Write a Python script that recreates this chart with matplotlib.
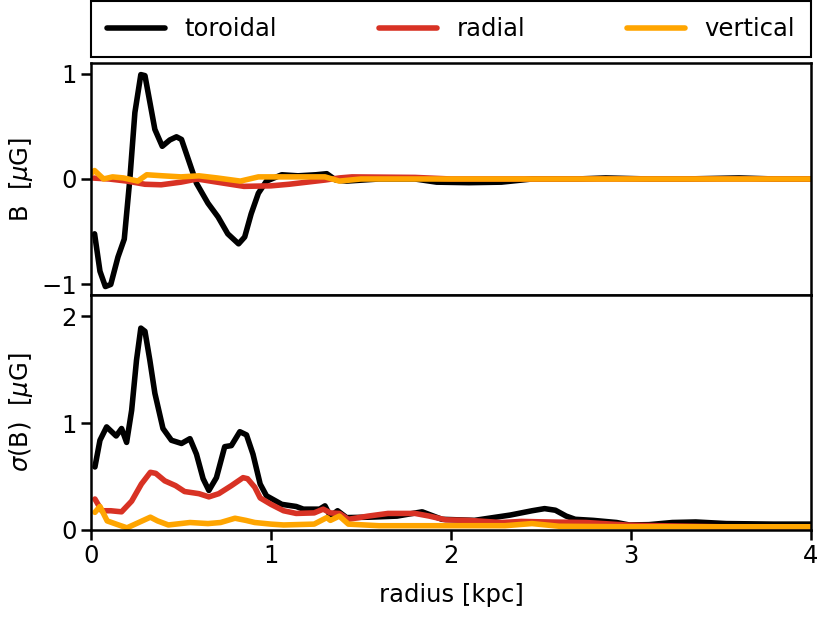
import numpy as np
import matplotlib
matplotlib.use("Agg")
from matplotlib import pyplot as plt

plt.rcParams['font.family'] = ['DejaVu Sans']
plt.rcParams['mathtext.fontset'] = 'dejavusans'

# --- mean field B (top panel)
tor_x = [0.02, 0.05, 0.08, 0.11, 0.15, 0.185, 0.216, 0.244, 0.277, 0.30, 0.327, 0.355,
         0.396, 0.438, 0.475, 0.503, 0.54, 0.586, 0.65, 0.706, 0.76, 0.82, 0.854, 0.89,
         0.93, 0.975, 1.06, 1.15, 1.25, 1.31, 1.36, 1.42, 1.6, 1.8, 1.92, 2.1, 2.28,
         2.45, 2.7, 2.86, 3.1, 3.3, 3.6, 3.8, 4.0]
tor_b = [-0.52, -0.875, -1.02, -1.0, -0.74, -0.57, 0.0, 0.63, 0.99, 0.98, 0.73, 0.47,
         0.31, 0.37, 0.40, 0.375, 0.19, -0.04, -0.23, -0.36, -0.52, -0.615, -0.55, -0.33,
         -0.135, -0.02, 0.04, 0.03, 0.04, 0.05, -0.01, -0.02, 0.0, 0.0, -0.03, -0.035, -0.03,
         0.0, 0.0, 0.01, 0.0, 0.0, 0.01, 0.0, 0.0]

rad_x = [0.0, 0.1, 0.2, 0.3, 0.39, 0.5, 0.59, 0.7, 0.85, 1.0, 1.1, 1.2, 1.3, 1.38,
         1.45, 1.8, 2.0, 2.5, 3.0, 3.5, 4.0]
rad_b = [0.01, 0.0, -0.02, -0.05, -0.055, -0.03, 0.0, -0.03, -0.07, -0.065, -0.05, -0.03,
         -0.01, 0.01, 0.02, 0.015, 0.0, 0.0, 0.0, 0.0, 0.0]

ver_x = [0.0, 0.02, 0.07, 0.12, 0.18, 0.26, 0.31, 0.4, 0.5, 0.6, 0.7, 0.83, 0.93, 1.08,
         1.3, 1.38, 1.5, 2.0, 2.5, 3.0, 3.5, 4.0]
ver_b = [0.05, 0.08, 0.0, 0.02, 0.01, -0.02, 0.04, 0.03, 0.02, 0.03, 0.01, -0.02, 0.02, 0.02,
         0.02, -0.02, 0.0, 0.0, 0.0, 0.0, 0.0, 0.0]

# --- dispersion sigma(B) (bottom panel)
tor_sx = [0.022, 0.05, 0.087, 0.14, 0.17, 0.198, 0.226, 0.253, 0.277, 0.30, 0.327, 0.355,
          0.40, 0.447, 0.503, 0.55, 0.586, 0.623, 0.655, 0.697, 0.743, 0.78, 0.827, 0.864,
          0.90, 0.94, 0.975, 1.06, 1.14, 1.18, 1.27, 1.30, 1.33, 1.37, 1.42, 1.55, 1.7,
          1.84, 1.95, 2.13, 2.33, 2.45, 2.52, 2.58, 2.64, 2.69, 2.79, 2.92, 2.99, 3.1, 3.23,
          3.36, 3.53, 3.79, 4.0]
tor_s = [0.59, 0.84, 0.965, 0.88, 0.95, 0.82, 1.12, 1.59, 1.89, 1.86, 1.59, 1.28,
         0.95, 0.84, 0.81, 0.855, 0.71, 0.48, 0.37, 0.49, 0.78, 0.79, 0.92, 0.89,
         0.71, 0.43, 0.32, 0.24, 0.22, 0.195, 0.195, 0.226, 0.13, 0.18, 0.116, 0.12, 0.13,
         0.17, 0.10, 0.09, 0.14, 0.18, 0.2, 0.185, 0.13, 0.10, 0.09, 0.07, 0.047, 0.05, 0.07,
         0.075, 0.06, 0.055, 0.055]

rad_sx = [0.022, 0.06, 0.11, 0.17, 0.226, 0.28, 0.33, 0.36, 0.41, 0.47, 0.52, 0.60, 0.655,
          0.71, 0.78, 0.845, 0.87, 0.91, 0.94, 1.0, 1.07, 1.14, 1.24, 1.29, 1.33, 1.38,
          1.43, 1.54, 1.65, 1.80, 1.88, 1.97, 2.10, 2.28, 2.39, 2.54, 2.75, 2.99, 3.5, 4.0]
rad_s = [0.29, 0.18, 0.18, 0.17, 0.27, 0.43, 0.54, 0.53, 0.46, 0.415, 0.36, 0.34, 0.31,
         0.34, 0.415, 0.49, 0.48, 0.40, 0.30, 0.24, 0.18, 0.155, 0.16, 0.195, 0.16, 0.155,
         0.10, 0.13, 0.155, 0.155, 0.13, 0.095, 0.09, 0.07, 0.08, 0.075, 0.07, 0.045, 0.03, 0.03]

ver_sx = [0.022, 0.05, 0.09, 0.14, 0.2, 0.265, 0.33, 0.37, 0.43, 0.55, 0.65, 0.72, 0.80,
          0.86, 0.91, 1.0, 1.07, 1.24, 1.31, 1.33, 1.38, 1.43, 1.6, 2.0, 2.3, 2.45, 2.6,
          3.0, 3.5, 4.0]
ver_s = [0.165, 0.22, 0.085, 0.055, 0.02, 0.07, 0.12, 0.085, 0.047, 0.07, 0.06, 0.07, 0.11,
         0.09, 0.07, 0.055, 0.047, 0.055, 0.116, 0.09, 0.13, 0.055, 0.04, 0.04, 0.04, 0.06,
         0.035, 0.03, 0.03, 0.03]

labels = ['toroidal', 'radial', 'vertical']
colors = ['black', '#d83224', '#ffa500']
fs = 17.5
lw = 4

fig = plt.figure(figsize=(8.3, 6.23), dpi=100)
ax1 = fig.add_axes([0.1096, 0.5265, 0.8675, 0.3724])
ax2 = fig.add_axes([0.1096, 0.1493, 0.8675, 0.3772], sharex=ax1)

for x, y, c, l in zip([tor_x, rad_x, ver_x], [tor_b, rad_b, ver_b], colors, labels):
    ax1.plot(x, y, color=c, lw=lw, label=l, solid_capstyle='round')
for x, y, c in zip([tor_sx, rad_sx, ver_sx], [tor_s, rad_s, ver_s], colors):
    ax2.plot(x, y, color=c, lw=lw, solid_capstyle='round')

ax1.set_xlim(0, 4)
ax1.set_ylim(-1.1, 1.1)
ax2.set_ylim(0, 2.2)
ax1.set_yticks([-1, 0, 1])
ax1.set_yticklabels(['\u22121', '0', '1'])
ax2.set_yticks([0, 1, 2])
ax2.set_xticks([0, 1, 2, 3, 4])
ax1.tick_params(axis='x', bottom=False, labelbottom=False)

for ax in (ax1, ax2):
    for s in ax.spines.values():
        s.set_linewidth(1.8)
    ax.tick_params(labelsize=fs, width=1.8, length=7.5, pad=2.5)

ax1.set_ylabel(r'B  [$\mu$G]', fontsize=fs)
ax2.set_ylabel(r'$\sigma$(B)  [$\mu$G]', fontsize=fs)
for ax in (ax1, ax2):
    ax.yaxis.set_label_coords(-0.078, 0.5)
ax2.set_xlabel('radius [kpc]', fontsize=fs, labelpad=11)

leg = fig.legend(*ax1.get_legend_handles_labels(), loc='lower left',
                 bbox_to_anchor=(0.1096, 0.9085, 0.8675, 0.0867), mode='expand', ncol=3,
                 fontsize=fs, fancybox=False, edgecolor='black', framealpha=1,
                 handlelength=2.4, handletextpad=0.8, borderpad=0.65, borderaxespad=0)
leg.get_frame().set_linewidth(1.5)

fig.savefig('out.png', dpi=100)
